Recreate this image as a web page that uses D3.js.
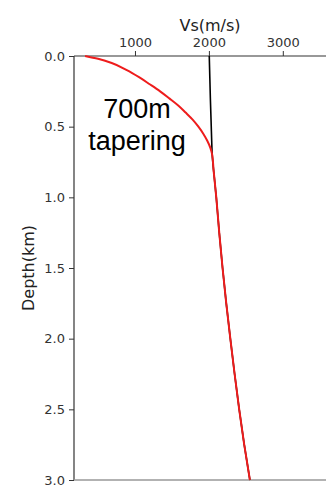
<!DOCTYPE html>
<html>
<head>
<meta charset="utf-8">
<script src="https://cdn.jsdelivr.net/npm/d3@7"></script>
<style>
  html, body { margin: 0; padding: 0; background: #fff; }
  svg { display: block; }
</style>
</head>
<body>
<svg id="chart" width="326" height="486"></svg>
<script>
// Shear-wave velocity profiles (depth in km, Vs in m/s)
const depthTrue = [0.0, 0.1, 0.2, 0.3, 0.4, 0.5, 0.6, 0.7, 0.8, 1.0, 1.25, 1.5, 1.75, 2.0, 2.25, 2.5, 2.75, 3.0];
const vsTrue    = [2005, 2010, 2015, 2020, 2026, 2032, 2038, 2045, 2062, 2100, 2140, 2185, 2235, 2290, 2348, 2410, 2478, 2555];

const depthTaper = [0.0, 0.02, 0.05, 0.1, 0.15, 0.2, 0.25, 0.3, 0.35, 0.4, 0.45, 0.5, 0.55, 0.6, 0.65, 0.7, 0.8, 1.0, 1.25, 1.5, 1.75, 2.0, 2.25, 2.5, 2.75, 3.0];
const vsTaper    = [325, 500, 685, 890, 1055, 1200, 1340, 1465, 1585, 1685, 1780, 1858, 1924, 1978, 2020, 2045, 2062, 2100, 2140, 2185, 2235, 2290, 2348, 2410, 2478, 2555];

const xTicks = [1000, 2000, 3000];
const yTicks = [0.0, 0.5, 1.0, 1.5, 2.0, 2.5, 3.0];
const noteLines = ["700m", "tapering"];

const svg = d3.select("#chart");
const margin = { left: 74, top: 56, right: 346, bottom: 480 };

const x = d3.scaleLinear().domain([175, 3855]).range([margin.left, margin.right]);
const y = d3.scaleLinear().domain([0, 3]).range([margin.top, margin.bottom]);

const tickFont = "DejaVu Sans, sans-serif";

// Top axis (velocity)
const xAxis = svg.append("g")
  .attr("transform", `translate(0,${margin.top})`)
  .call(d3.axisTop(x).tickValues(xTicks).tickFormat(d3.format("d")).tickSize(5).tickPadding(4));
xAxis.select(".domain").remove();
xAxis.selectAll(".tick line").attr("stroke", "#333").attr("stroke-width", 1);
xAxis.selectAll(".tick text").attr("font-family", tickFont).attr("font-size", 13).attr("fill", "#333");

// Left axis (depth)
const yAxis = svg.append("g")
  .attr("transform", `translate(${margin.left},0)`)
  .call(d3.axisLeft(y).tickValues(yTicks).tickFormat(d3.format(".1f")).tickSize(5).tickPadding(4));
yAxis.select(".domain").remove();
yAxis.selectAll(".tick line").attr("stroke", "#333").attr("stroke-width", 1);
yAxis.selectAll(".tick text").attr("font-family", tickFont).attr("font-size", 13).attr("fill", "#333");

// Spines
svg.append("line").attr("x1", margin.left).attr("x2", margin.right)
  .attr("y1", margin.top).attr("y2", margin.top)
  .attr("stroke", "#333").attr("stroke-width", 1.2);
svg.append("line").attr("x1", margin.left).attr("x2", margin.left)
  .attr("y1", margin.top).attr("y2", margin.bottom)
  .attr("stroke", "#333").attr("stroke-width", 1.2);
svg.append("line").attr("x1", margin.left).attr("x2", margin.right)
  .attr("y1", margin.bottom).attr("y2", margin.bottom)
  .attr("stroke", "#999").attr("stroke-width", 1.6);

// Axis titles
svg.append("text")
  .attr("x", (margin.left + margin.right) / 2).attr("y", 31)
  .attr("text-anchor", "middle")
  .attr("font-family", tickFont).attr("font-size", 16).attr("fill", "#222")
  .text("Vs(m/s)");
svg.append("text")
  .attr("transform", `translate(34,${(margin.top + margin.bottom) / 2}) rotate(-90)`)
  .attr("text-anchor", "middle")
  .attr("font-family", tickFont).attr("font-size", 16).attr("fill", "#222")
  .text("Depth(km)");

// Profiles
const line = d3.line().curve(d3.curveMonotoneY);
const plot = svg.append("g");
plot.append("path")
  .attr("d", line(depthTrue.map((d, i) => [x(vsTrue[i]), y(d)])))
  .attr("fill", "none").attr("stroke", "#000").attr("stroke-width", 1.6);
plot.append("path")
  .attr("d", line(depthTaper.map((d, i) => [x(vsTaper[i]), y(d)])))
  .attr("fill", "none").attr("stroke", "#ee1c1c").attr("stroke-width", 2);

// Annotation
svg.append("text")
  .attr("x", 137).attr("y", 118)
  .attr("text-anchor", "middle")
  .attr("font-family", "Liberation Sans, Arial, sans-serif").attr("font-size", 27).attr("fill", "#000")
  .selectAll("tspan").data(noteLines).join("tspan")
  .attr("x", 137).attr("dy", (d, i) => i === 0 ? 0 : 32)
  .text(d => d);
</script>
</body>
</html>
